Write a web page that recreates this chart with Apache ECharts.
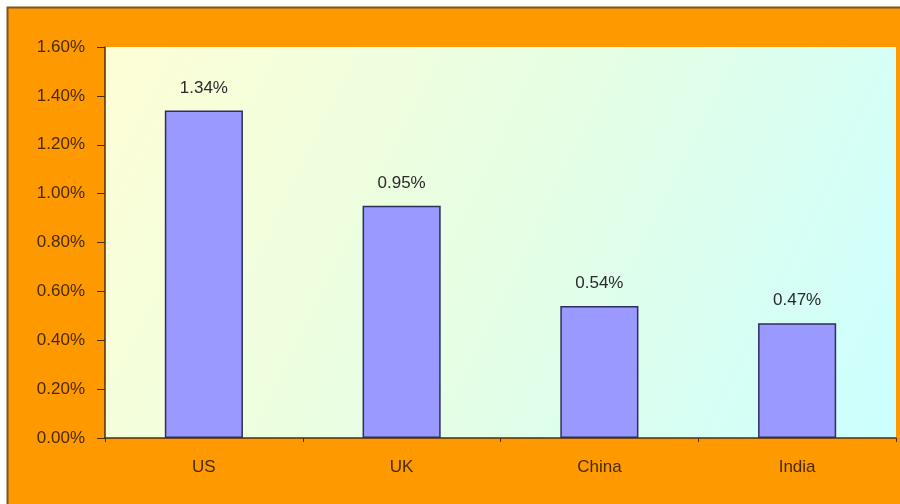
<!DOCTYPE html>
<html><head><meta charset="utf-8">
<script src="https://cdn.jsdelivr.net/npm/echarts@6/dist/echarts.min.js"></script>
<style>html,body{margin:0;padding:0;background:#fff}#c{width:900px;height:504px}</style>
</head><body><div id="c"></div>
<script>
const categories = ['US', 'UK', 'China', 'India'];
const values = [1.34, 0.95, 0.54, 0.47];
const yTicks = [0, 0.2, 0.4, 0.6, 0.8, 1.0, 1.2, 1.4, 1.6];

const textColor = '#472a00';
const font = 'Liberation Sans, Arial';
const chart = echarts.init(document.getElementById('c'));
chart.setOption({
  backgroundColor: '#ffffff',
  animation: false,
  graphic: [{
    type: 'rect', z: -10, silent: true,
    shape: { x: 7.5, y: 7.5, width: 900, height: 510 },
    style: { fill: '#FF9900', stroke: '#7a5520', lineWidth: 2 }
  }],
  grid: {
    left: 105, right: 4, top: 47, bottom: 66,
    show: true, borderWidth: 0,
    backgroundColor: {
      type: 'linear', x: 0, y: 0, x2: 1, y2: 1,
      colorStops: [
        { offset: 0, color: '#FEFED6' },
        { offset: 0.5, color: '#E6FEE4' },
        { offset: 1, color: '#CCFFFF' }
      ]
    }
  },
  xAxis: {
    type: 'category', data: categories,
    axisLine: { lineStyle: { color: '#4a3010', width: 1.5 } },
    axisTick: { show: true, length: 4, lineStyle: { color: '#4a3010' } },
    axisLabel: { color: textColor, fontFamily: font, fontSize: 17, margin: 21 }
  },
  yAxis: {
    type: 'value', min: 0, max: 1.6, interval: 0.2,
    splitLine: { show: false },
    axisLine: { show: true, lineStyle: { color: '#4a3010', width: 1.5 } },
    axisTick: { show: true, length: 8, lineStyle: { color: '#4a3010' } },
    axisLabel: {
      color: textColor, fontFamily: font, fontSize: 17, margin: 20,
      formatter: v => v.toFixed(2) + '%'
    }
  },
  series: [{
    type: 'bar', data: values, barWidth: '39.5%',
    itemStyle: { color: '#9999FF', borderColor: '#2e2e5a', borderWidth: 1.5 },
    label: {
      show: true, position: 'top', distance: 14,
      color: '#2a2a2a', fontFamily: font, fontSize: 17,
      formatter: p => p.value.toFixed(2) + '%'
    }
  }]
});
</script></body></html>
